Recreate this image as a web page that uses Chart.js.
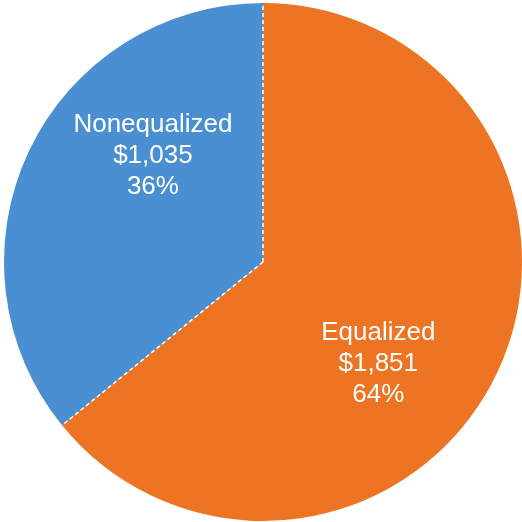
<!DOCTYPE html>
<html>
<head>
<meta charset="utf-8">
<script src="https://cdn.jsdelivr.net/npm/chart.js@4/dist/chart.umd.min.js"></script>
<style>
  html, body { margin: 0; padding: 0; background: #ffffff; }
  #wrap { width: 522px; height: 522px; position: relative; }
</style>
</head>
<body>
<div id="wrap"><canvas id="pieChart"></canvas></div>
<script>
// Chart data
const categories = ['Equalized', 'Nonequalized'];
const amounts = [1851, 1035];
const sliceColors = ['#ED7422', '#4A8FD1'];

// Dashed white separators along the slice edges
const separatorPlugin = {
    id: 'separators',
    afterDatasetsDraw(chart) {
        const arcs = chart.getDatasetMeta(0).data;
        const ctx = chart.ctx;
        ctx.save();
        ctx.strokeStyle = '#ffffff';
        ctx.lineWidth = 1.5;
        ctx.setLineDash([4, 3]);
        arcs.forEach(arc => {
            const p = arc.getProps(['x', 'y', 'startAngle', 'outerRadius'], true);
            ctx.beginPath();
            ctx.moveTo(p.x, p.y);
            ctx.lineTo(p.x + Math.cos(p.startAngle) * p.outerRadius, p.y + Math.sin(p.startAngle) * p.outerRadius);
            ctx.stroke();
        });
        ctx.restore();
    }
};

// Category / value / percent labels inside the slices
const labelPlugin = {
    id: 'sliceLabels',
    afterDatasetsDraw(chart, args, opts) {
        const arcs = chart.getDatasetMeta(0).data;
        const values = chart.data.datasets[0].data;
        const total = values.reduce((a, b) => a + b, 0);
        const ctx = chart.ctx;
        ctx.save();
        ctx.fillStyle = '#ffffff';
        ctx.font = '26px "Liberation Sans", Arial, sans-serif';
        ctx.textAlign = 'center';
        ctx.textBaseline = 'middle';
        arcs.forEach((arc, i) => {
            const p = arc.getProps(['x', 'y', 'outerRadius'], true);
            const off = opts.offsets[i];
            const cx = p.x + off[0] * p.outerRadius;
            const cy = p.y + off[1] * p.outerRadius;
            const lines = [
                chart.data.labels[i],
                '$' + values[i].toLocaleString('en-US'),
                Math.round(values[i] / total * 100) + '%'
            ];
            lines.forEach((t, k) => {
                ctx.fillText(t, cx, cy + (k - 1) * 31);
            });
        });
        ctx.restore();
    }
};

const ctx = document.getElementById('pieChart').getContext('2d');
new Chart(ctx, {
    type: 'pie',
    data: {
        labels: categories,
        datasets: [{
            data: amounts,
            backgroundColor: sliceColors,
            borderWidth: 0
        }]
    },
    options: {
        responsive: true,
        maintainAspectRatio: false,
        animation: false,
        layout: { padding: { left: 4, right: 0, top: 3, bottom: 1 } },
        plugins: {
            legend: { display: false },
            tooltip: { enabled: false },
            sliceLabels: { offsets: [[0.445, 0.395], [-0.425, -0.41]] }
        }
    },
    plugins: [separatorPlugin, labelPlugin]
});
</script>
</body>
</html>
